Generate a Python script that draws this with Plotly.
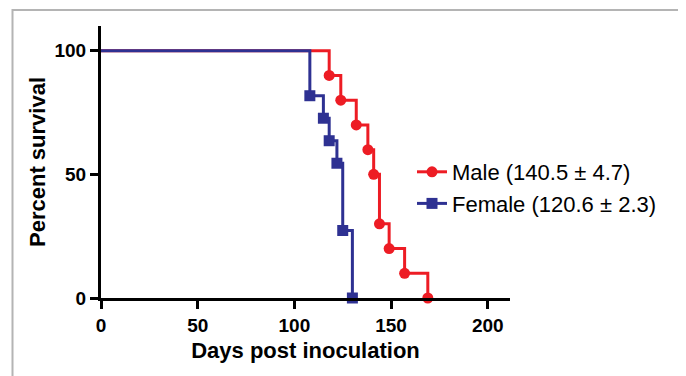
import plotly.graph_objects as go

# Data
male_days = [118, 124, 132, 138, 141, 144, 149, 157, 169]
male_surv = [90, 80, 70, 60, 50, 30, 20, 10, 0]
female_days = [108, 115, 118, 122, 125, 130]
female_surv = [81.8, 72.7, 63.6, 54.5, 27.3, 0]
start_day = 0
start_surv = 100
x_ticks = [0, 50, 100, 150, 200]
y_ticks = [0, 50, 100]
male_label = "Male (140.5 ± 4.7)"
female_label = "Female (120.6 ± 2.3)"

RED = "#ED1C24"
BLUE = "#2E3192"
FONT = "Liberation Sans"

fig = go.Figure()

for days, surv, color, symbol, label in [
    (male_days, male_surv, RED, "circle", male_label),
    (female_days, female_surv, BLUE, "square", female_label),
]:
    # initial plateau at 100% down to first event
    fig.add_trace(go.Scatter(
        x=[start_day, days[0]], y=[start_surv, surv[0]],
        mode="lines", line=dict(color=color, width=3, shape="hv"),
        showlegend=False, hoverinfo="skip", cliponaxis=False,
    ))
    fig.add_trace(go.Scatter(
        x=days, y=surv, name=label,
        mode="lines+markers",
        line=dict(color=color, width=3, shape="hv"),
        marker=dict(color=color, symbol=symbol, size=11),
        cliponaxis=False,
    ))

axis_common = dict(
    showline=True, linecolor="black", linewidth=3,
    ticks="outside", ticklen=8, tickwidth=3, tickcolor="black",
    showgrid=False, zeroline=False, automargin=False,
    tickfont=dict(family=FONT, size=19, color="black", weight="bold"),
)

fig.update_xaxes(
    range=[0, 211.5], tickvals=x_ticks,
    title=dict(text="Days post inoculation", standoff=8,
               font=dict(family=FONT, size=22, color="black", weight="bold")),
    **axis_common,
)
fig.update_yaxes(
    range=[0, 110], tickvals=y_ticks,
    title=dict(text="Percent survival", standoff=3,
               font=dict(family=FONT, size=22, color="black", weight="bold")),
    **axis_common,
)

# The page body has an 8px margin, so the figure is sized/offset accordingly
OFF = 8
W, H = 686 - OFF, 376 - OFF
l, t = 101 - OFF, 26 - OFF
r = W - (510 - OFF)
b = H - (298 - OFF)
pw, ph = W - l - r, H - t - b
def px_to_paper_x(px):
    return (px - OFF - l) / pw
def px_to_paper_y(py):
    return (H - b - (py - OFF)) / ph

# light gray panel border
fig.add_shape(type="rect", xref="paper", yref="paper",
              x0=px_to_paper_x(12.5), x1=px_to_paper_x(683.5),
              y0=px_to_paper_y(390), y1=px_to_paper_y(10),
              line=dict(color="#b4b4b4", width=2), layer="below")

fig.update_layout(
    width=W, height=H,
    margin=dict(l=l, r=r, t=t, b=b, autoexpand=False),
    paper_bgcolor="white", plot_bgcolor="white",
    showlegend=True,
    legend=dict(
        xref="container", yref="container",
        x=(412 - OFF) / W, y=1 - (151 - OFF) / H, xanchor="left", yanchor="top",
        font=dict(family=FONT, size=22, color="black"),
        itemwidth=30, bgcolor="rgba(0,0,0,0)", tracegroupgap=0,
    ),
)

fig.write_html("out.html")
